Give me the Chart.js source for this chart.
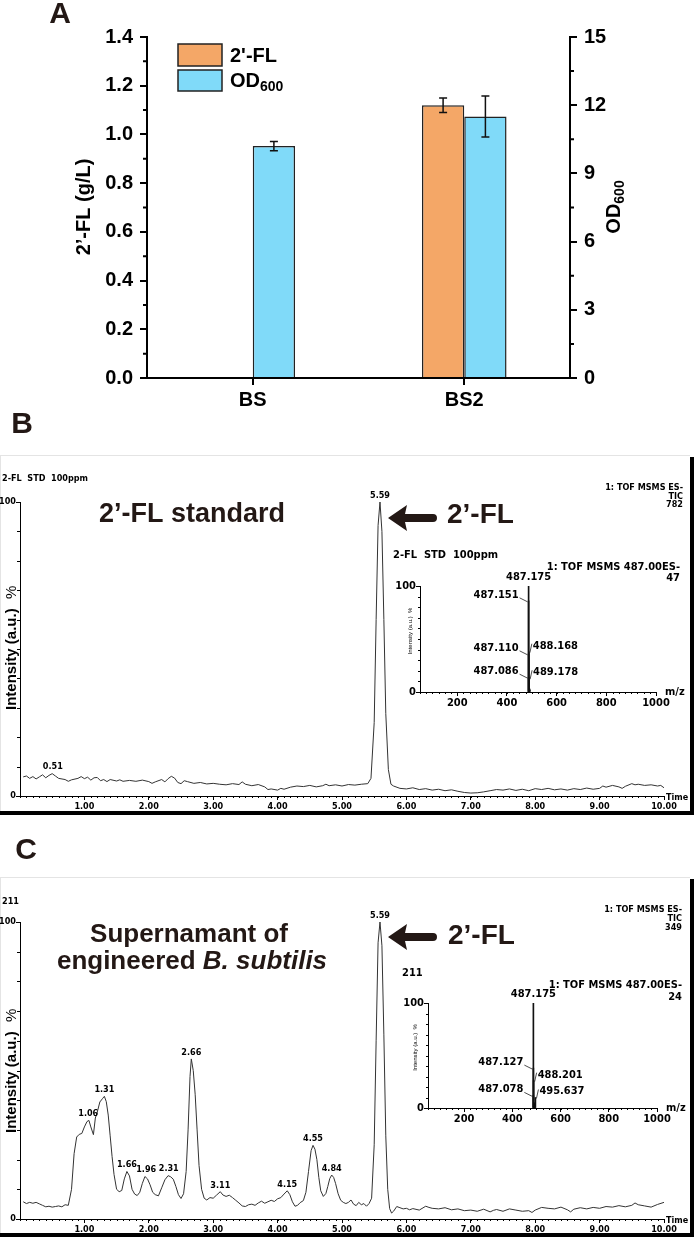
<!DOCTYPE html>
<html lang="en">
<head>
<meta charset="UTF-8">
<title>2'-FL titer and LC-MS</title>
<script src="https://cdn.jsdelivr.net/npm/chart.js"></script>
<style>
  body { margin: 0; background: #fff; }
  #page { position: relative; width: 697px; height: 1239px; overflow: hidden; background: #fff; }
  canvas { position: absolute; }
  #chartA { left: 0; top: 0; }
  #chartB { left: 0; top: 455px; }
  #insetB { left: 380px; top: 540px; }
  #chartC { left: 0; top: 877px; }
  #insetC { left: 380px; top: 960px; }
</style>
</head>
<body>
<div id="page">
  <canvas id="chartA" width="697" height="455"></canvas>
  <canvas id="chartB" width="697" height="422"></canvas>
  <canvas id="insetB" width="310" height="170"></canvas>
  <canvas id="chartC" width="697" height="362"></canvas>
  <canvas id="insetC" width="310" height="170"></canvas>
</div>
<script>
const SANS = '"Liberation Sans", Arial, Helvetica, sans-serif';
const NARROW = '"Liberation Sans Narrow", "Arial Narrow", "DejaVu Sans Condensed", "Liberation Sans", sans-serif';
const INK = '#231815';
const ORANGE = '#F4A767';
const BLUE = '#80DAF9';

// --- A: titer and growth ---
const strains = ['BS', 'BS2'];
const flTiter = [null, 1.12];
const flErr = [0, 0.03];
const odValues = [10.2, 11.5];
const odErr = [0.2, 0.9];
const leftTicks = [0, 0.2, 0.4, 0.6, 0.8, 1.0, 1.2, 1.4];
const rightTicks = [0, 3, 6, 9, 12, 15];

// --- B: 2'-FL standard chromatogram ---
const stdTime = [
  0.05, 0.1, 0.15, 0.2, 0.25, 0.3, 0.35, 0.4, 0.45, 0.5,
  0.55, 0.6, 0.7, 0.75, 0.8, 0.9, 0.95, 1.0, 1.05, 1.1,
  1.15, 1.2, 1.25, 1.3, 1.35, 1.4, 1.5, 1.55, 1.6, 1.7,
  1.8, 1.9, 2.0, 2.05, 2.1, 2.2, 2.25, 2.3, 2.35, 2.4,
  2.45, 2.5, 2.55, 2.6, 2.7, 2.8, 2.9, 3.0, 3.1, 3.2,
  3.3, 3.4, 3.45, 3.5, 3.6, 3.7, 3.8, 3.85, 3.9, 4.0,
  4.05, 4.1, 4.2, 4.3, 4.4, 4.5, 4.6, 4.7, 4.75, 4.8,
  4.9, 5.0, 5.1, 5.2, 5.3, 5.4, 5.45, 5.5, 5.53, 5.56,
  5.59, 5.62, 5.65, 5.68, 5.72, 5.76, 5.8, 5.9, 6.0, 6.1,
  6.2, 6.3, 6.4, 6.5, 6.6, 6.7, 6.8, 6.9, 7.0, 7.1,
  7.2, 7.3, 7.4, 7.5, 7.6, 7.7, 7.8, 7.9, 8.0, 8.1,
  8.2, 8.3, 8.4, 8.5, 8.6, 8.7, 8.8, 8.9, 9.0, 9.05,
  9.1, 9.2, 9.3, 9.35, 9.4, 9.5, 9.55, 9.6, 9.7, 9.8,
  9.9, 9.95, 10.0
];
const stdInt = [
  6.5, 6.8, 6.0, 6.6, 5.8, 6.5, 7.2, 6.2, 7.0, 7.6,
  6.8, 6.0, 5.6, 5.0, 5.5, 6.0, 6.6, 5.9, 6.4, 5.4,
  6.2, 6.3, 5.2, 5.6, 4.9, 5.6, 5.1, 5.5, 5.0, 5.3,
  5.0, 5.4, 4.9, 4.3, 4.8, 5.6, 4.8, 5.9, 6.7, 6.1,
  4.6, 4.2, 5.2, 4.9, 4.3, 4.6, 4.1, 4.3, 4.0, 3.8,
  4.2, 3.9, 4.8, 4.0, 3.5, 3.9, 3.1, 2.2, 2.4, 2.0,
  2.6, 2.3, 3.0, 3.4, 3.2, 3.6, 3.1, 3.5, 4.0, 3.5,
  3.8, 3.4, 3.9, 3.7, 4.0, 4.2, 6.0, 25, 60, 92,
  100, 90, 60, 28, 9, 4.0, 3.4, 2.6, 2.4, 2.8,
  2.2, 2.5, 2.0, 2.3, 1.8, 2.1, 1.6, 1.2, 1.0, 1.1,
  1.4, 1.8, 2.2, 2.0, 2.4, 1.9, 2.3, 1.8, 2.5, 2.2,
  2.6, 2.1, 2.4, 2.0, 2.5, 2.2, 2.7, 2.3, 2.6, 3.4,
  3.0, 3.6, 3.1, 2.6, 3.3, 4.2, 3.8, 4.0, 3.6, 3.8,
  3.4, 3.6, 2.8
];
const stdPeaks = [0.51, 5.59];
const stdMz = [487.086, 487.110, 487.151, 487.175, 488.168, 489.178, 490.6, 492.3];
const stdMzInt = [14, 36, 86, 100, 38, 13, 3, 2];
const stdMzLabelled = [487.086, 487.110, 487.151, 487.175, 488.168, 489.178];

// --- C: supernatant chromatogram ---
const supTime = [
  0.05, 0.1, 0.15, 0.2, 0.25, 0.3, 0.35, 0.4, 0.45, 0.5,
  0.55, 0.6, 0.65, 0.7, 0.75, 0.8, 0.84, 0.88, 0.92, 0.96,
  1.0, 1.04, 1.07, 1.1, 1.14, 1.17, 1.2, 1.24, 1.28, 1.31,
  1.34, 1.37, 1.4, 1.43, 1.46, 1.5, 1.54, 1.58, 1.62, 1.66,
  1.7, 1.74, 1.78, 1.82, 1.86, 1.9, 1.94, 1.98, 2.02, 2.06,
  2.1, 2.15, 2.2, 2.25, 2.3, 2.34, 2.38, 2.42, 2.46, 2.5,
  2.54, 2.58, 2.61, 2.64, 2.66, 2.69, 2.72, 2.75, 2.78, 2.82,
  2.86, 2.9, 2.95, 3.0, 3.05, 3.11, 3.15, 3.2, 3.25, 3.3,
  3.35, 3.4, 3.45, 3.5, 3.55, 3.6, 3.65, 3.7, 3.75, 3.8,
  3.85, 3.9, 3.95, 4.0, 4.05, 4.1, 4.15, 4.19, 4.23, 4.27,
  4.31, 4.35, 4.4, 4.44, 4.48, 4.52, 4.55, 4.58, 4.61, 4.64,
  4.67, 4.71, 4.75, 4.78, 4.81, 4.84, 4.87, 4.9, 4.94, 4.98,
  5.02, 5.06, 5.1, 5.14, 5.18, 5.22, 5.26, 5.3, 5.34, 5.38,
  5.42, 5.46, 5.5, 5.53, 5.56, 5.59, 5.62, 5.65, 5.68, 5.71,
  5.74, 5.77, 5.8, 5.85, 5.9, 5.95, 6.0, 6.05, 6.1, 6.2,
  6.3, 6.35, 6.4, 6.5, 6.6, 6.7, 6.8, 6.9, 7.0, 7.1,
  7.2, 7.3, 7.35, 7.4, 7.5, 7.6, 7.7, 7.8, 7.9, 7.95,
  8.0, 8.1, 8.2, 8.3, 8.4, 8.5, 8.55, 8.6, 8.7, 8.8,
  8.9, 9.0, 9.1, 9.2, 9.3, 9.4, 9.5, 9.55, 9.6, 9.7,
  9.8, 9.9, 10.0
];
const supInt = [
  5.8, 5.2, 5.6, 5.3, 5.6, 5.1, 4.6, 4.1, 4.3, 4.0,
  4.2, 4.4, 4.1, 4.8, 4.6, 10, 22, 27.6, 28.5, 28.8,
  31, 32.8, 33.2, 31, 28.4, 34, 36, 39.4, 40.5, 41.3,
  39.5, 35, 28, 21, 15, 10, 9.2, 9.6, 13.5, 16,
  14.5, 10, 8.4, 7.9, 9, 12, 14.3, 13.5, 11.5, 9,
  8.2, 7.8, 10.5, 13.2, 14.6, 14.2, 13.4, 11, 8.2, 6.9,
  8.5, 16, 30, 48, 53.9, 50, 42, 30, 18, 10,
  7, 6.4, 7.2, 7.0, 8.0, 9.2, 8.1, 7.6, 8.0, 7.2,
  6.3, 5.4, 4.4, 4.2, 4.8, 5.0, 4.6, 5.4, 6.0, 5.3,
  5.8, 6.3, 5.9, 6.8, 7.2, 8.4, 9.5, 8.2, 5.8, 4.3,
  4.6, 5.5, 6.2, 9, 16, 23, 24.8, 23.5, 20, 14,
  9.5, 7.6, 8.6, 11, 13.6, 14.8, 14, 12, 8.5, 6.3,
  5.6, 5.2, 5.6, 6.4, 5.0, 4.5, 5.6, 4.8, 5.2, 4.3,
  5.2, 7, 25, 60, 93, 100, 92, 62, 28, 10,
  3.5, 2.0, 2.6, 4.2, 3.8, 3.4, 3.6, 3.1, 3.5, 3.0,
  4.3, 3.9, 3.6, 3.4, 3.8, 3.1, 3.4, 2.8, 3.0, 2.6,
  3.3, 2.4, 2.9, 3.2, 2.6, 3.4, 3.0, 2.6, 2.8, 2.2,
  3.0, 3.9, 3.6, 3.4, 4.0, 3.1, 2.4, 3.3, 3.8, 3.4,
  3.9, 3.6, 4.2, 4.0, 4.5, 4.1, 4.6, 5.4, 4.8, 4.4,
  4.0, 4.9, 5.6
];
const supPeaks = [1.06, 1.31, 1.66, 1.96, 2.31, 2.66, 3.11, 4.15, 4.55, 4.84, 5.59];
const supMz = [487.078, 487.127, 487.175, 488.201, 489.4, 490.8, 492.5, 494.1, 495.637];
const supMzInt = [12, 38, 100, 26, 4, 3, 5, 3, 10];
const supMzLabelled = [487.078, 487.127, 487.175, 488.201, 495.637];

const timeTicks = [1, 2, 3, 4, 5, 6, 7, 8, 9, 10];
const mzTicks = [200, 400, 600, 800, 1000];

Chart.defaults.font.family = SANS;

// ---------- drawing helpers ----------
function text(ctx, s, x, y, font, align, base, color) {
  ctx.font = font;
  ctx.textAlign = align || 'left';
  ctx.textBaseline = base || 'middle';
  ctx.fillStyle = color || '#000';
  ctx.fillText(s, x, y);
}

function vtext(ctx, s, x, y, font, align, color) {
  ctx.save();
  ctx.translate(x, y);
  ctx.rotate(-Math.PI / 2);
  text(ctx, s, 0, 0, font, align, 'middle', color);
  ctx.restore();
}

// small tick marks the library does not draw (minor ticks)
function minor(chart, id, start, step, count, len, lw) {
  const s = chart.scales[id], ctx = chart.ctx;
  ctx.save();
  ctx.strokeStyle = '#000';
  ctx.lineWidth = lw || 1;
  ctx.beginPath();
  for (let i = 0; i <= count; i++) {
    let p = s.getPixelForValue(start + i * step);
    if (lw === 1 || !lw) p = Math.round(p) + 0.5;
    if (s.isHorizontal()) {
      ctx.moveTo(p, s.top); ctx.lineTo(p, s.top + len);
    } else if (s.position === 'left') {
      ctx.moveTo(s.right, p); ctx.lineTo(s.right - len, p);
    } else {
      ctx.moveTo(s.left, p); ctx.lineTo(s.left + len, p);
    }
  }
  ctx.stroke();
  ctx.restore();
}

function arrow(ctx, tip, tail, y) {
  ctx.save();
  ctx.fillStyle = INK;
  ctx.beginPath();
  ctx.moveTo(tip, y);
  ctx.lineTo(tip + 19, y - 13);
  ctx.lineTo(tip + 17, y - 4);
  ctx.lineTo(tail - 4, y - 4);
  ctx.arc(tail - 4, y, 4, -Math.PI / 2, Math.PI / 2);
  ctx.lineTo(tip + 17, y + 4);
  ctx.lineTo(tip + 19, y + 13);
  ctx.closePath();
  ctx.fill();
  ctx.restore();
}

// ---------- panel A ----------
const errorBars = {
  id: 'errorBars',
  afterDatasetsDraw(chart) {
    const ctx = chart.ctx;
    ctx.save();
    ctx.strokeStyle = '#111';
    ctx.lineWidth = 1.5;
    chart.data.datasets.forEach((ds, i) => {
      const meta = chart.getDatasetMeta(i);
      const ys = chart.scales[ds.yAxisID];
      meta.data.forEach((bar, j) => {
        const v = ds.data[j];
        if (v == null || !ds.errors[j]) return;
        const hi = ys.getPixelForValue(v + ds.errors[j]);
        const lo = ys.getPixelForValue(v - ds.errors[j]);
        ctx.beginPath();
        ctx.moveTo(bar.x, hi); ctx.lineTo(bar.x, lo);
        ctx.moveTo(bar.x - 4, hi); ctx.lineTo(bar.x + 4, hi);
        ctx.moveTo(bar.x - 4, lo); ctx.lineTo(bar.x + 4, lo);
        ctx.stroke();
      });
    });
    ctx.restore();
  }
};

const panelA = {
  id: 'panelA',
  afterDraw(chart) {
    const ctx = chart.ctx;
    minor(chart, 'y', 0.1, 0.2, 6, 4, 2);
    minor(chart, 'y1', 1.5, 3, 4, 4, 2);

    // legend
    ctx.save();
    ctx.lineWidth = 1.5;
    ctx.strokeStyle = '#222';
    ctx.fillStyle = ORANGE;
    ctx.fillRect(178, 44, 44, 22);
    ctx.strokeRect(178, 44, 44, 22);
    ctx.fillStyle = BLUE;
    ctx.fillRect(178, 70, 44, 21);
    ctx.strokeRect(178, 70, 44, 21);
    ctx.restore();
    text(ctx, "2'-FL", 230, 56, 'bold 20px ' + SANS);
    text(ctx, 'OD', 230, 81, 'bold 20px ' + SANS);
    ctx.font = 'bold 20px ' + SANS;
    const wOD = ctx.measureText('OD').width;
    text(ctx, '600', 230 + wOD, 87, 'bold 14px ' + SANS);

    // axis titles
    vtext(ctx, '2\u2019-FL (g/L)', 84, 207, 'bold 20px ' + SANS, 'center');
    ctx.save();
    ctx.translate(614, 207);
    ctx.rotate(-Math.PI / 2);
    ctx.font = 'bold 20px ' + SANS;
    const w1 = ctx.measureText('OD').width;
    ctx.font = 'bold 14px ' + SANS;
    const w2 = ctx.measureText('600').width;
    text(ctx, 'OD', -(w1 + w2) / 2, 0, 'bold 20px ' + SANS);
    text(ctx, '600', -(w1 + w2) / 2 + w1, 6, 'bold 14px ' + SANS);
    ctx.restore();

    // panel letters
    text(ctx, 'A', 60, 15, 'bold 30px ' + SANS, 'center', 'middle', INK);
    text(ctx, 'B', 22, 425, 'bold 30px ' + SANS, 'center', 'middle', INK);
  }
};

const tickFontA = { family: SANS, size: 20, weight: 'bold' };

new Chart(document.getElementById('chartA'), {
  type: 'bar',
  data: {
    labels: strains,
    datasets: [
      { label: "2'-FL", data: flTiter, errors: flErr, yAxisID: 'y',
        backgroundColor: ORANGE, borderColor: '#222', borderWidth: 1.5 },
      { label: 'OD600', data: odValues, errors: odErr, yAxisID: 'y1',
        backgroundColor: BLUE, borderColor: '#222', borderWidth: 1.5 }
    ]
  },
  options: {
    responsive: false,
    animation: false,
    layout: { padding: { top: 37, bottom: 40, left: 0, right: 0 } },
    datasets: { bar: { categoryPercentage: 0.4, barPercentage: 1 } },
    plugins: { legend: { display: false }, tooltip: { enabled: false } },
    scales: {
      x: {
        grid: { drawOnChartArea: false, offset: false, tickLength: 7, color: '#000', lineWidth: 2 },
        border: { color: '#000', width: 2 },
        ticks: { color: '#000', font: tickFontA, padding: 3 },
        afterFit: s => { s.height = 37; }
      },
      y: {
        position: 'left', min: 0, max: 1.4,
        afterBuildTicks: s => { s.ticks = leftTicks.map(v => ({ value: v })); },
        ticks: { color: '#000', font: tickFontA, padding: 7, callback: v => v.toFixed(1) },
        grid: { drawOnChartArea: false, tickLength: 7, color: '#000', lineWidth: 2 },
        border: { color: '#000', width: 2 },
        afterFit: s => { s.width = 147; }
      },
      y1: {
        position: 'right', min: 0, max: 15,
        afterBuildTicks: s => { s.ticks = rightTicks.map(v => ({ value: v })); },
        ticks: { color: '#000', font: tickFontA, padding: 7, callback: v => String(v) },
        grid: { drawOnChartArea: false, tickLength: 7, color: '#000', lineWidth: 2 },
        border: { color: '#000', width: 2 },
        afterFit: s => { s.width = 127; }
      }
    }
  },
  plugins: [errorBars, panelA]
});

// ---------- chromatograms ----------
function drawFrame(chart) {
  const ctx = chart.ctx;
  ctx.save();
  ctx.fillStyle = '#e4e4e4';
  ctx.fillRect(0, 0, 690, 1);
  ctx.fillRect(0, 0, 1, 357);
  ctx.fillStyle = '#000';
  ctx.fillRect(690, 2, 4, 358);
  ctx.fillRect(0, 356, 694, 4);
  ctx.restore();
}

function intensityTitle(chart) {
  const ctx = chart.ctx;
  const y0 = chart.scales.y.getPixelForValue(0);
  const f = 'bold 15px ' + SANS;
  ctx.font = f;
  const w = ctx.measureText('Intensity (a.u.)').width;
  vtext(ctx, 'Intensity (a.u.)', 12, y0 - 86, f, 'left');
  vtext(ctx, '%', 12, y0 - 86 - w - 16, '15px ' + SANS, 'center');
}

function chromatogram(id, times, values, peaks, padTop, padBottom, axisH, overlay) {
  const smallBold = { family: NARROW, size: 9, weight: 'bold' };
  return new Chart(document.getElementById(id), {
    type: 'line',
    data: {
      datasets: [{
        data: times.map((t, i) => ({ x: t, y: values[i] })),
        borderColor: '#333', borderWidth: 1, pointRadius: 0, tension: 0, fill: false
      }]
    },
    options: {
      responsive: false,
      animation: false,
      layout: { padding: { top: padTop, right: 33, left: 0, bottom: padBottom } },
      plugins: { legend: { display: false }, tooltip: { enabled: false } },
      scales: {
        x: {
          type: 'linear', min: 0, max: 10,
          afterBuildTicks: s => { s.ticks = timeTicks.map(v => ({ value: v })); },
          ticks: { autoSkip: false, maxRotation: 0, color: '#000', padding: 1, font: smallBold,
                   callback: v => v.toFixed(2) },
          grid: { drawOnChartArea: false, tickLength: 4, color: '#000' },
          border: { color: '#000', width: 1 },
          afterFit: s => { s.height = axisH; }
        },
        y: {
          min: 0, max: 100,
          afterBuildTicks: s => { s.ticks = [0, 100].map(v => ({ value: v })); },
          ticks: { color: '#000', padding: 0, font: smallBold, callback: v => String(v) },
          grid: { drawOnChartArea: false, tickLength: 4, color: '#000' },
          border: { color: '#000', width: 1 },
          afterFit: s => { s.width = 20; }
        }
      }
    },
    plugins: [
      { id: 'frame', beforeDraw: drawFrame },
      {
        id: 'deco',
        afterDraw(chart) {
          const ctx = chart.ctx;
          const xs = chart.scales.x, ys = chart.scales.y;
          minor(chart, 'x', 0, 0.1, 100, 2);
          minor(chart, 'y', 0, 10, 10, 3);
          peaks.forEach(pk => {
            let top = 0;
            times.forEach((t, i) => { if (Math.abs(t - pk) <= 0.04) top = Math.max(top, values[i]); });
            text(ctx, pk.toFixed(2), xs.getPixelForValue(pk), ys.getPixelForValue(top) - 2,
                 'bold 9px ' + NARROW, 'center', 'bottom');
          });
          text(ctx, 'Time', 666, ys.bottom + 2, 'bold 9px ' + NARROW, 'left', 'middle');
          intensityTitle(chart);
          overlay(ctx);
        }
      }
    ]
  });
}

chromatogram('chartB', stdTime, stdInt, stdPeaks, 47, 60, 21, ctx => {
  text(ctx, '2-FL  STD  100ppm', 2, 24, 'bold 9px ' + NARROW);
  text(ctx, '1: TOF MSMS ES-', 683, 33, 'bold 9px ' + NARROW, 'right');
  text(ctx, 'TIC', 683, 42, 'bold 9px ' + NARROW, 'right');
  text(ctx, '782', 683, 50, 'bold 9px ' + NARROW, 'right');
  text(ctx, '2\u2019-FL standard', 192, 60, 'bold 27px ' + SANS, 'center', 'middle', INK);
  arrow(ctx, 388, 437, 63);
  text(ctx, '2\u2019-FL', 447, 60, 'bold 28px ' + SANS, 'left', 'middle', INK);
  text(ctx, 'C', 26, 396, 'bold 30px ' + SANS, 'center', 'middle', INK);
});

chromatogram('chartC', supTime, supInt, supPeaks, 45, 0, 20, ctx => {
  text(ctx, '211', 2, 25, 'bold 9px ' + NARROW);
  text(ctx, '1: TOF MSMS ES-', 682, 33, 'bold 9px ' + NARROW, 'right');
  text(ctx, 'TIC', 682, 42, 'bold 9px ' + NARROW, 'right');
  text(ctx, '349', 682, 51, 'bold 9px ' + NARROW, 'right');
  text(ctx, 'Supernamant of', 189, 58, 'bold 26px ' + SANS, 'center', 'middle', INK);
  ctx.font = 'bold 26px ' + SANS;
  const a = ctx.measureText('engineered ').width;
  ctx.font = 'italic bold 26px ' + SANS;
  const b = ctx.measureText('B. subtilis').width;
  const x0 = 192 - (a + b) / 2;
  text(ctx, 'engineered ', x0, 85, 'bold 26px ' + SANS, 'left', 'middle', INK);
  text(ctx, 'B. subtilis', x0 + a, 85, 'italic bold 26px ' + SANS, 'left', 'middle', INK);
  arrow(ctx, 388, 437, 60);
  text(ctx, '2\u2019-FL', 448, 59, 'bold 28px ' + SANS, 'left', 'middle', INK);
});

// ---------- MS/MS insets ----------
function spectrum(id, mz, inten, labelled, padTop, padRight, yW, xH, titleX, notes) {
  const lab = { family: NARROW, size: 11, weight: 'bold' };
  return new Chart(document.getElementById(id), {
    type: 'bar',
    data: {
      datasets: [{
        data: mz.map((m, i) => ({ x: m, y: inten[i] })),
        backgroundColor: '#111', borderWidth: 0, barThickness: 1
      }]
    },
    options: {
      responsive: false,
      animation: false,
      layout: { padding: { top: padTop, right: padRight, left: 0, bottom: 0 } },
      plugins: { legend: { display: false }, tooltip: { enabled: false } },
      scales: {
        x: {
          type: 'linear', min: 50, max: 1000, offset: false,
          afterBuildTicks: s => { s.ticks = mzTicks.map(v => ({ value: v })); },
          ticks: { autoSkip: false, maxRotation: 0, color: '#000', padding: 1, font: lab, callback: v => String(v) },
          grid: { drawOnChartArea: false, offset: false, tickLength: 4, color: '#000' },
          border: { color: '#000', width: 1 },
          afterFit: s => { s.height = xH; }
        },
        y: {
          min: 0, max: 100,
          afterBuildTicks: s => { s.ticks = [0, 100].map(v => ({ value: v })); },
          ticks: { color: '#000', padding: 0, font: lab, callback: v => String(v) },
          grid: { drawOnChartArea: false, tickLength: 4, color: '#000' },
          border: { color: '#000', width: 1 },
          afterFit: s => { s.width = yW; }
        }
      }
    },
    plugins: [{
      id: 'specDeco',
      afterDraw(chart) {
        const ctx = chart.ctx;
        const xs = chart.scales.x, ys = chart.scales.y;
        minor(chart, 'x', 50, 25, 38, 2);
        minor(chart, 'y', 0, 10, 10, 2);
        vtext(ctx, 'Intensity (a.u.)  %', titleX, (ys.top + ys.bottom) / 2 - 8, '6px ' + SANS, 'center');
        text(ctx, 'm/z', xs.right + 9, ys.bottom, 'bold 11px ' + NARROW, 'left', 'middle');
        const f = 'bold 11px ' + NARROW;
        const base = mz[inten.indexOf(Math.max(...inten))];
        ctx.save();
        ctx.strokeStyle = '#222';
        ctx.lineWidth = 0.8;
        labelled.forEach(m => {
          const v = inten[mz.indexOf(m)];
          const px = xs.getPixelForValue(m), py = ys.getPixelForValue(v);
          const s = m.toFixed(3);
          if (m === base) {
            text(ctx, s, px, py - 3, f, 'center', 'bottom');
          } else if (m < base) {
            text(ctx, s, px - 10, py - 6, f, 'right', 'middle');
            ctx.beginPath(); ctx.moveTo(px - 9, py - 3); ctx.lineTo(px - 1, py + 1); ctx.stroke();
          } else {
            text(ctx, s, px + 4, py - 6, f, 'left', 'middle');
            ctx.beginPath(); ctx.moveTo(px + 3, py - 8); ctx.lineTo(px + 1, py + 1); ctx.stroke();
          }
        });
        ctx.restore();
        notes(ctx);
      }
    }]
  });
}

spectrum('insetB', stdMz, stdMzInt, stdMzLabelled, 46, 34, 40, 18, 30, ctx => {
  text(ctx, '2-FL  STD  100ppm', 13, 15, 'bold 11px ' + NARROW);
  text(ctx, '1: TOF MSMS 487.00ES-', 300, 27, 'bold 11px ' + NARROW, 'right');
  text(ctx, '47', 300, 38, 'bold 11px ' + NARROW, 'right');
});

spectrum('insetC', supMz, supMzInt, supMzLabelled, 43, 33, 48, 22, 35, ctx => {
  text(ctx, '211', 22, 13, 'bold 11px ' + NARROW);
  text(ctx, '1: TOF MSMS 487.00ES-', 302, 25, 'bold 11px ' + NARROW, 'right');
  text(ctx, '24', 302, 37, 'bold 11px ' + NARROW, 'right');
});
</script>
</body>
</html>
